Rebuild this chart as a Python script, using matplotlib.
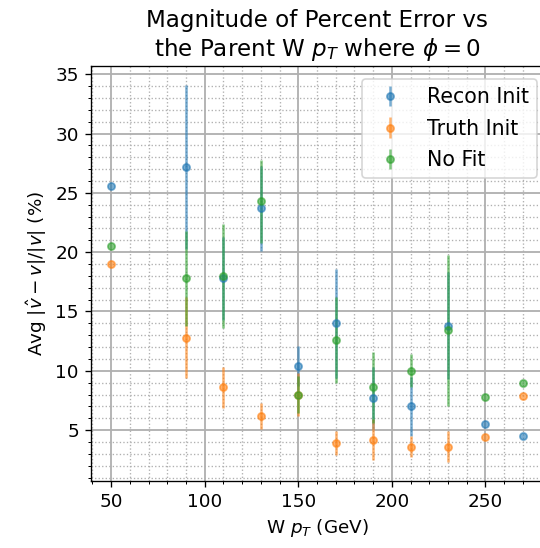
import matplotlib
matplotlib.use("Agg")
import matplotlib.pyplot as plt

pt = [50, 90, 110, 130, 150, 170, 190, 210, 230, 250, 270]

recon = [25.6, 27.2, 17.8, 23.7, 10.4, 14.0, 7.7, 7.0, 13.8, 5.5, 4.5]
recon_err = [0, 6.9, 3.5, 3.6, 1.7, 4.6, 2.6, 2.5, 4.5, 0, 0]

truth = [19.0, 12.8, 8.6, 6.2, 8.0, 3.9, 4.2, 3.6, 3.6, 4.4, 7.9]
truth_err = [0, 3.4, 1.7, 1.1, 1.8, 1.0, 1.7, 0.9, 1.3, 0, 0]

nofit = [20.5, 17.8, 18.0, 24.3, 8.0, 12.6, 8.6, 10.0, 13.4, 7.8, 9.0]
nofit_err = [0, 4.0, 4.4, 3.5, 1.6, 3.6, 3.0, 1.4, 6.4, 0, 0]

plt.rcParams['font.size'] = 11

fig = plt.figure(figsize=(4.5, 548 / 120), dpi=120)
ax = fig.add_axes([90.5 / 540, 67 / 548, 453 / 540, 415 / 548])

ax.errorbar(pt, recon, yerr=recon_err, fmt='o', ms=4.3, alpha=0.6, label="Recon Init")
ax.errorbar(pt, truth, yerr=truth_err, fmt='o', ms=4.3, alpha=0.6, label="Truth Init")
ax.errorbar(pt, nofit, yerr=nofit_err, fmt='o', ms=4.3, alpha=0.6, label="No Fit")

ax.minorticks_on()
ax.grid(which='major', color='#b0b0b0', linewidth=1.1)
ax.grid(which='minor', color='#b0b0b0', linestyle=':', linewidth=0.8)
ax.set_axisbelow(True)

ax.set_title("Magnitude of Percent Error vs\nthe Parent W $p_T$ where $\\phi = 0$",
             fontsize=13.8)
ax.set_xlabel("W $p_T$ (GeV)")
ax.set_ylabel("Avg $|\\hat{v} - v|/|v|$ (%)")
ax.legend(loc="upper right", bbox_to_anchor=(1.0, 0.983), fontsize=12.3,
          labelspacing=0.55, borderaxespad=0.3)

fig.savefig("out.png", dpi=120)
